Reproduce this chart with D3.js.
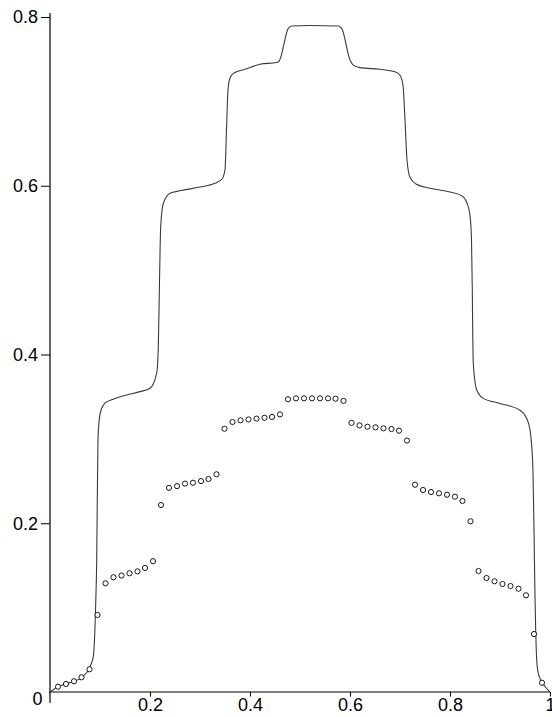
<!DOCTYPE html>
<html>
<head>
<meta charset="utf-8">
<script src="https://cdn.jsdelivr.net/npm/d3@7"></script>
<style>
  html, body { margin: 0; padding: 0; background: #fff; }
  svg { display: block; }
  text { font-family: "Liberation Sans", Arial, Helvetica, sans-serif; font-size: 18px; fill: #000; }
</style>
</head>
<body>
<svg id="chart" width="552" height="717"></svg>
<script>
// Continuous profile (solid line)
const curveX = [0, 0.016, 0.032, 0.048, 0.064, 0.08, 0.0866, 0.09, 0.092, 0.0934, 0.0946, 0.096, 0.098,
  0.102, 0.11, 0.1266, 0.1534, 0.18, 0.2, 0.2134, 0.2166, 0.2186, 0.2214, 0.2266, 0.24, 0.26, 0.30,
  0.33, 0.344, 0.35, 0.353, 0.356, 0.36, 0.368, 0.39, 0.42, 0.4534, 0.4586, 0.4766, 0.4834, 0.52,
  0.5766, 0.5834, 0.60, 0.6066, 0.62, 0.66, 0.69, 0.70, 0.706, 0.71, 0.714, 0.72, 0.732, 0.76, 0.80,
  0.824, 0.834, 0.84, 0.843, 0.8446, 0.8454, 0.8466, 0.8534, 0.8666, 0.90, 0.94, 0.9534, 0.96,
  0.9654, 0.968, 0.97, 0.9714, 0.9734, 0.9766, 0.9834, 0.99, 1.0];
const curveY = [0, 0.0063, 0.0095, 0.0127, 0.0174, 0.030, 0.042, 0.077, 0.117, 0.156, 0.228, 0.299, 0.320,
  0.334, 0.3425, 0.347, 0.352, 0.356, 0.360, 0.378, 0.409, 0.4725, 0.5515, 0.579, 0.591, 0.594, 0.5985,
  0.603, 0.608, 0.619, 0.666, 0.7135, 0.7277, 0.7336, 0.738, 0.744, 0.746, 0.748, 0.7866, 0.7893, 0.790,
  0.7893, 0.7866, 0.749, 0.743, 0.740, 0.738, 0.735, 0.731, 0.719, 0.678, 0.6305, 0.610, 0.602, 0.597, 0.5926,
  0.588, 0.5795, 0.565, 0.5357, 0.4764, 0.429, 0.3896, 0.358, 0.348, 0.342, 0.334, 0.3244, 0.3105,
  0.271, 0.192, 0.113, 0.0735, 0.038, 0.022, 0.0122, 0.0065, 0];

// Discrete samples (open circles)
const pointX = [0.016, 0.032, 0.048, 0.063, 0.079, 0.095, 0.111, 0.127, 0.143, 0.159, 0.175, 0.190,
  0.206, 0.222, 0.238, 0.254, 0.270, 0.286, 0.302, 0.317, 0.333, 0.349, 0.365, 0.381, 0.397, 0.413,
  0.429, 0.444, 0.460, 0.476, 0.492, 0.508, 0.524, 0.540, 0.556, 0.571, 0.587, 0.603, 0.619, 0.635,
  0.651, 0.667, 0.683, 0.698, 0.714, 0.730, 0.746, 0.762, 0.778, 0.794, 0.810, 0.825, 0.841, 0.857,
  0.873, 0.889, 0.905, 0.921, 0.937, 0.952, 0.968, 0.984];
const pointY = [0.0063, 0.0095, 0.0127, 0.0174, 0.0269, 0.0913, 0.1288, 0.136, 0.138, 0.1407, 0.143, 0.147,
  0.155, 0.2216, 0.242, 0.244, 0.247, 0.248, 0.250, 0.2524, 0.258, 0.312, 0.320, 0.322, 0.323, 0.324,
  0.325, 0.326, 0.329, 0.347, 0.348, 0.348, 0.348, 0.348, 0.348, 0.3476, 0.345, 0.319, 0.316, 0.3144,
  0.3137, 0.3125, 0.3117, 0.3097, 0.298, 0.2457, 0.2394, 0.237, 0.2355, 0.2338, 0.2315, 0.2264, 0.2023,
  0.1434, 0.1351, 0.1312, 0.128, 0.1256, 0.1224, 0.1146, 0.0687, 0.011];

// Axis ticks
const xMajorTicks = [0.2, 0.4, 0.6, 0.8, 1];
const xTickLabels = ["0.2", "0.4", "0.6", "0.8", "1"];
const yMajorTicks = [0.2, 0.4, 0.6, 0.8];
const yTickLabels = ["0.2", "0.4", "0.6", "0.8"];
const minorStep = 0.04;

const svg = d3.select("#chart");
const x = d3.scaleLinear().domain([0, 1]).range([50, 550]);
const y = d3.scaleLinear().domain([0, 0.8]).range([692, 17]);

const xMinor = d3.range(minorStep, 1.0001, minorStep).filter(v => !xMajorTicks.some(m => Math.abs(m - v) < 1e-6));
const yMinor = d3.range(minorStep, 0.8001, minorStep).filter(v => !yMajorTicks.some(m => Math.abs(m - v) < 1e-6));

// x axis
const gx = svg.append("g").attr("transform", `translate(0,${y(0)})`);
gx.call(d3.axisBottom(x).tickValues(xMinor).tickSize(2.5).tickFormat(""));
gx.call(d3.axisBottom(x).tickValues(xMajorTicks).tickSize(4.5).tickPadding(1.5)
  .tickFormat((d, i) => xTickLabels[i]));
gx.selectAll(".domain").remove();
gx.selectAll("line").attr("stroke", "#000");
gx.selectAll("text").style("font-size", "18px");
svg.append("line")
  .attr("x1", x(0) - 1).attr("x2", x(1))
  .attr("y1", y(0)).attr("y2", y(0))
  .attr("stroke", "#000").attr("stroke-width", 1);

// y axis
const gy = svg.append("g").attr("transform", `translate(${x(0)},0)`);
gy.call(d3.axisLeft(y).tickValues(yMinor).tickSize(3).tickFormat(""));
gy.call(d3.axisLeft(y).tickValues(yMajorTicks).tickSize(9).tickPadding(3)
  .tickFormat((d, i) => yTickLabels[i]));
gy.selectAll(".domain").remove();
gy.selectAll("line").attr("stroke", "#000");
gy.selectAll("text").style("font-size", "18px");
svg.append("line")
  .attr("x1", x(0)).attr("x2", x(0))
  .attr("y1", y(0) + 11).attr("y2", y(0.8) - 4)
  .attr("stroke", "#000").attr("stroke-width", 1.2);

// origin label
svg.append("text")
  .attr("x", x(0) - 7.5).attr("y", y(0) + 13)
  .attr("text-anchor", "end")
  .text("0");

// profile line
const line = d3.line()
  .x((d, i) => x(curveX[i]))
  .y((d, i) => y(curveY[i]))
  .curve(d3.curveMonotoneX);
svg.append("path")
  .datum(curveX)
  .attr("d", line)
  .attr("fill", "none")
  .attr("stroke", "#3a3a3a")
  .attr("stroke-width", 1.1);

// sample points
svg.append("g")
  .selectAll("circle")
  .data(pointX)
  .join("circle")
  .attr("cx", d => x(d))
  .attr("cy", (d, i) => y(pointY[i]))
  .attr("r", 2.6)
  .attr("fill", "#fff")
  .attr("stroke", "#000")
  .attr("stroke-width", 0.9);
</script>
</body>
</html>
